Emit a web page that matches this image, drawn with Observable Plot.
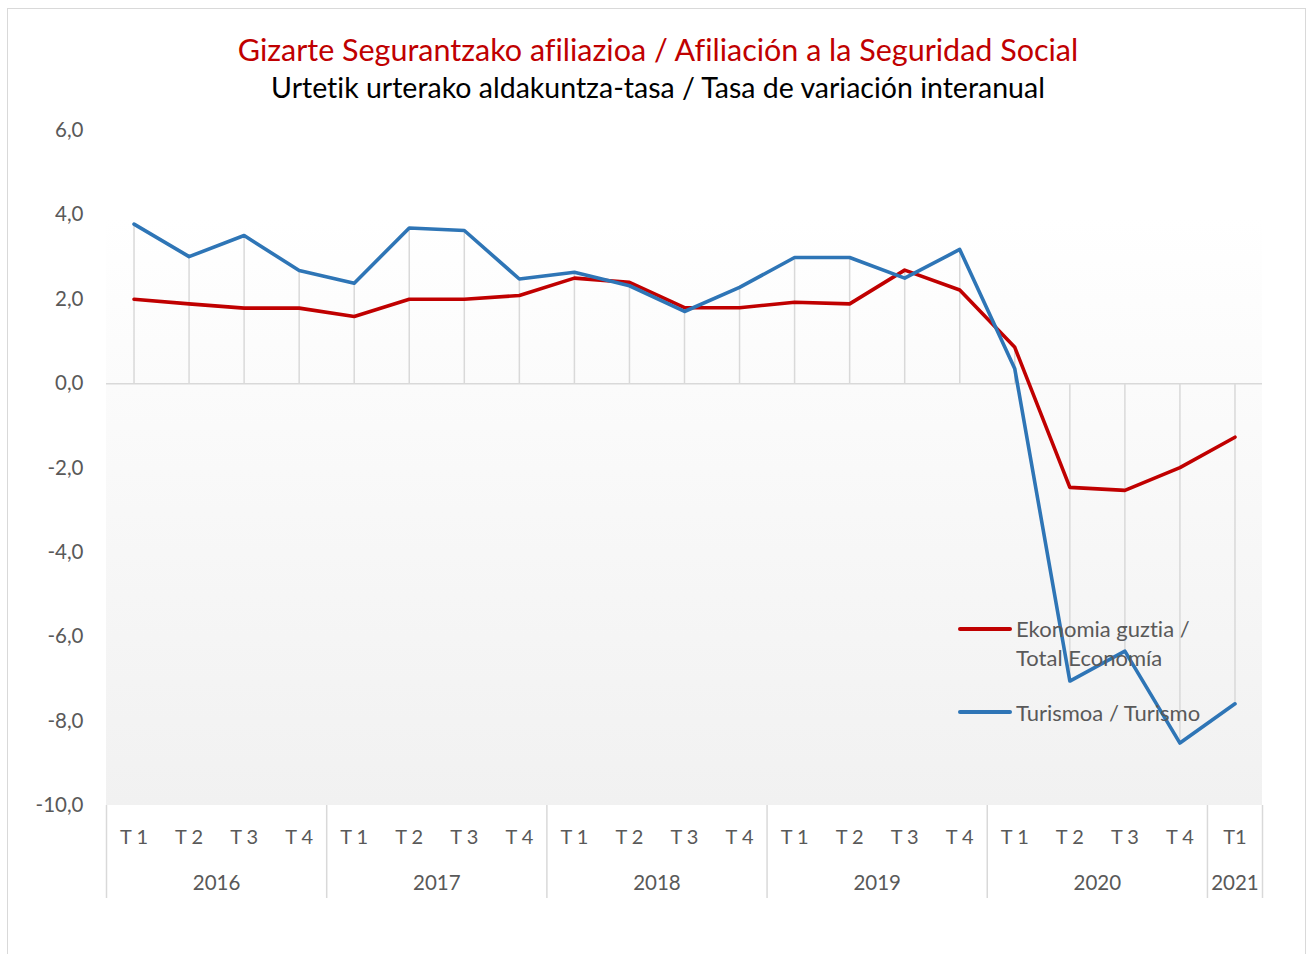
<!DOCTYPE html>
<html><head><meta charset="utf-8">
<script src="https://cdn.jsdelivr.net/npm/d3@7"></script>
<script src="https://cdn.jsdelivr.net/npm/@observablehq/plot@0.6"></script>
<style>
html,body{margin:0;padding:0;background:#fff;overflow:hidden}
body{width:1314px;height:954px;position:relative;font-family:Lato,"Open Sans",sans-serif;font-variant-ligatures:none}
#frame{position:absolute;left:7px;top:8px;width:1299px;height:990px;border:1.5px solid #d9d9d9;box-sizing:border-box}
#title{position:absolute;left:0;width:1316px;top:30px;text-align:center;color:#c00000;font-size:30.5px;line-height:38px}
#subtitle{position:absolute;left:0;width:1316px;top:70px;text-align:center;color:#000;font-size:28.5px;line-height:34px}
#chart{position:absolute;left:0;top:110px}
.lg{position:absolute;left:958px;display:flex;align-items:flex-start}
.sw{display:block;width:54px;height:4px;margin-top:12.5px;margin-right:4px;border-radius:2px}
.lt{font-size:22px;line-height:29px;color:#595959;white-space:nowrap}
</style></head>
<body>
<div id="frame"></div>
<div id="title">Gizarte Segurantzako afiliazioa / Afiliación a la Seguridad Social</div>
<div id="subtitle">Urtetik urterako aldakuntza-tasa / Tasa de variación interanual</div>
<div id="chart"></div>
<div class="lg" style="top:614px"><span class="sw" style="background:#c00000"></span><span class="lt">Ekonomia guztia /<br>Total Economía</span></div>
<div class="lg" style="top:697.5px"><span class="sw" style="background:#2e75b6"></span><span class="lt">Turismoa / Turismo</span></div>
<script>
const quarters = ["T 1","T 2","T 3","T 4","T 1","T 2","T 3","T 4","T 1","T 2","T 3","T 4","T 1","T 2","T 3","T 4","T 1","T 2","T 3","T 4","T1"];
const years = ["2016","2017","2018","2019","2020","2021"];
const quartersPerYear = [4,4,4,4,4,1];
const totalEconomia = [2.0,1.89,1.79,1.79, 1.59,2.0,2.0,2.09, 2.5,2.4,1.8,1.8, 1.93,1.89,2.69,2.22, 0.86,-2.46,-2.53,-1.99, -1.27];
const turismo = [3.78,3.01,3.51,2.68, 2.38,3.69,3.63,2.48, 2.64,2.32,1.71,2.28, 2.99,2.99,2.5,3.18, 0.35,-7.05,-6.34,-8.52, -7.59];
const yTicks = [6,4,2,0,-2,-4,-6,-8,-10];
const seriesNames = ["Ekonomia guztia / Total Economía","Turismoa / Turismo"];
const seriesColors = ["#c00000","#2e75b6"];

const idx = quarters.map((_, i) => i);
const rows = [];
idx.forEach(i => {
  rows.push({i, v: totalEconomia[i], s: seriesNames[0]});
  rows.push({i, v: turismo[i], s: seriesNames[1]});
});
const drops = idx.map(i => {
  const a = totalEconomia[i], b = turismo[i];
  const ext = (a >= 0 && b >= 0) ? Math.max(a, b) : Math.min(a, b);
  return {i, ext};
});
let acc = 0;
const bounds = [-0.5];
const yearLabels = years.map((y, k) => {
  const start = acc; acc += quartersPerYear[k];
  bounds.push(acc - 0.5);
  return {y, c: (start + acc - 1) / 2};
});
const gray = "#595959";
const fmt = d => d.toFixed(1).replace(".", ",");

const bg = (index, scales, values, dims) => {
  const g = d3.create("svg:g");
  const grad = g.append("defs").append("linearGradient")
    .attr("id", "bggrad").attr("x1", 0).attr("y1", 0).attr("x2", 0).attr("y2", 1);
  grad.append("stop").attr("offset", "0%").attr("stop-color", "#ffffff");
  grad.append("stop").attr("offset", "100%").attr("stop-color", "#f1f1f1");
  const top = scales.y(4) + 3;
  g.append("rect")
    .attr("x", dims.marginLeft).attr("y", top)
    .attr("width", dims.width - dims.marginLeft - dims.marginRight)
    .attr("height", dims.height - dims.marginBottom - top)
    .attr("fill", "url(#bggrad)");
  return g.node();
};

const chart = Plot.plot({
  width: 1314,
  height: 800,
  marginLeft: 106,
  marginRight: 52,
  marginTop: 20,
  marginBottom: 105,
  style: {fontFamily: "Lato, 'Open Sans', sans-serif", background: "transparent", overflow: "visible"},
  x: {type: "linear", domain: [-0.5, quarters.length - 0.5], axis: null},
  y: {domain: [-10, 6], axis: null},
  color: {domain: seriesNames, range: seriesColors},
  marks: [
    bg,
    Plot.ruleX(drops, {x: "i", y1: 0, y2: "ext", stroke: "#d9d9d9", strokeWidth: 1.5}),
    Plot.ruleY([0], {stroke: "#d9d9d9", strokeWidth: 1.5}),
    Plot.ruleX(bounds, {stroke: "#d9d9d9", strokeWidth: 1.5, insetTop: 675, insetBottom: -93}),
    Plot.line(rows, {x: "i", y: "v", z: "s", stroke: "s", strokeWidth: 3.6, strokeLinejoin: "round", strokeLinecap: "round"}),
    Plot.text(yTicks, {x: -0.5, y: d => d, text: fmt, dx: -23, textAnchor: "end", fontSize: 20.5, fill: gray}),
    Plot.text(idx, {x: d => d, y: -10, text: d => quarters[d], dy: 32, fontSize: 20, fill: gray}),
    Plot.text(yearLabels, {x: "c", y: -10, text: "y", dy: 78, fontSize: 20.5, fill: gray})
  ]
});
document.getElementById("chart").appendChild(chart);
</script>
</body></html>
